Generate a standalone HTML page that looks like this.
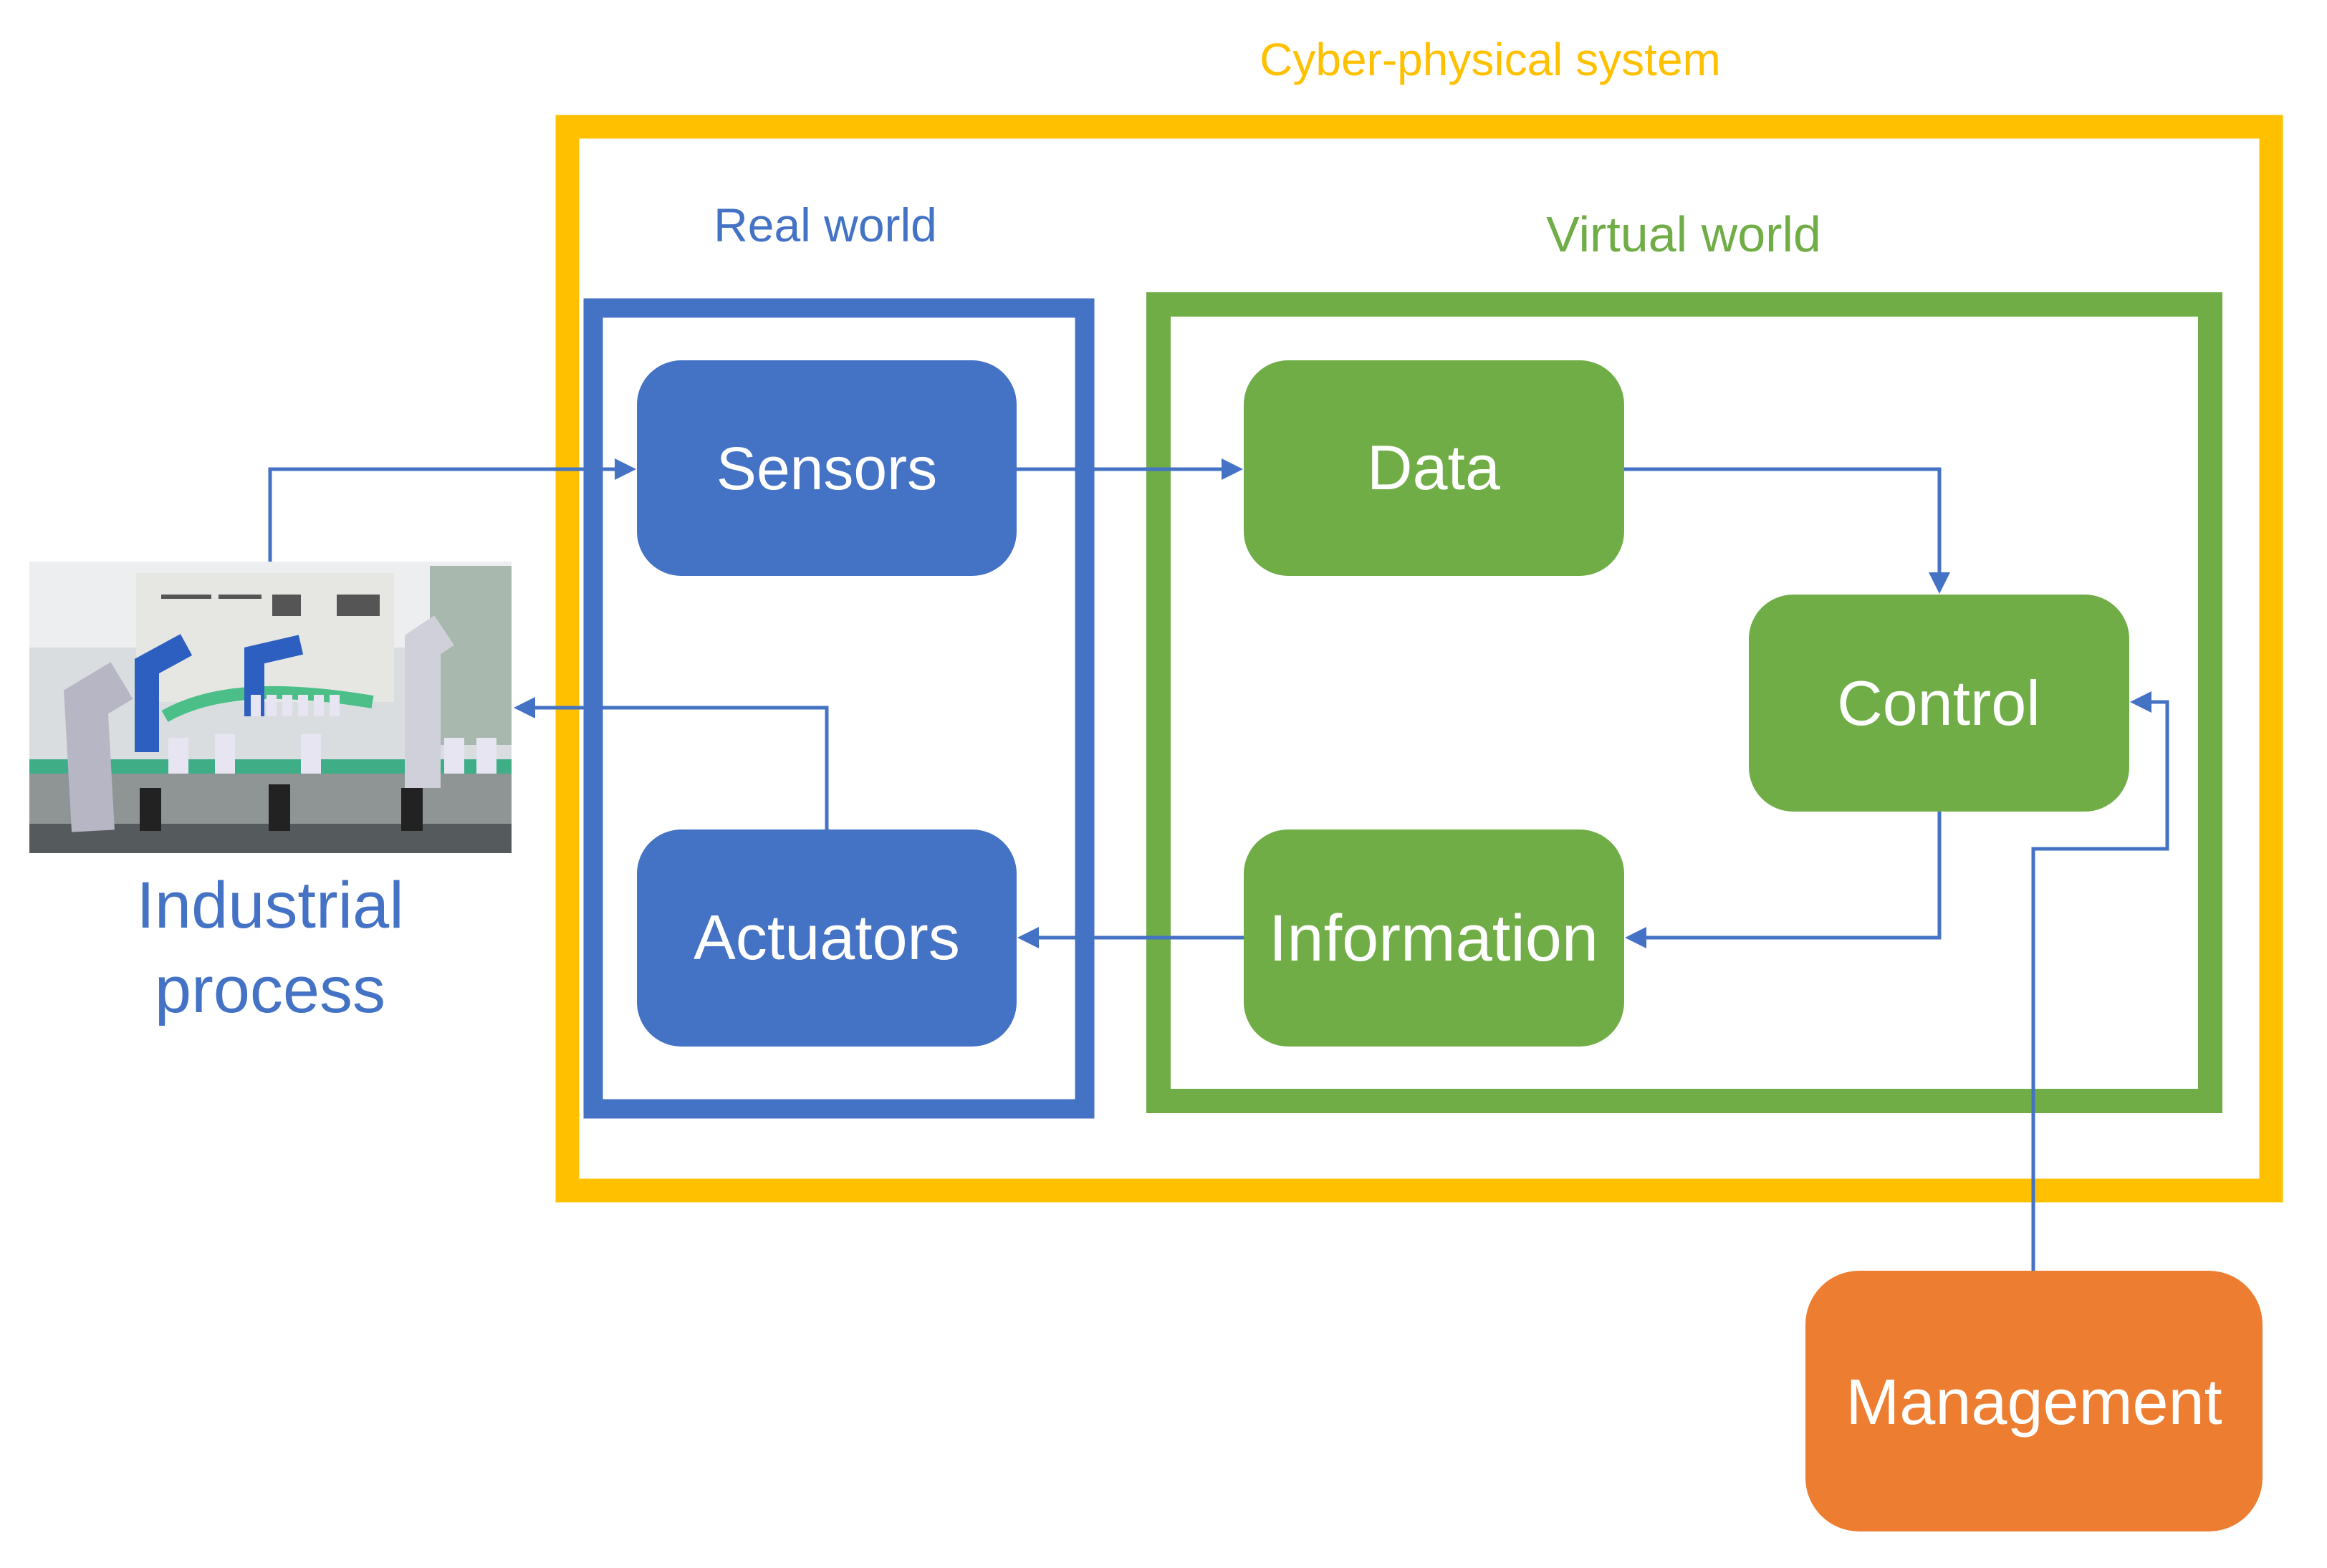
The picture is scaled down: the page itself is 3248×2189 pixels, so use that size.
<!DOCTYPE html>
<html><head><style>
html,body{margin:0;padding:0;background:#fff;}
body{width:3248px;height:2184px;overflow:hidden;}
text{font-family:"Liberation Sans",sans-serif;}
</style></head><body>
<svg width="3248" height="2184" viewBox="0 0 3248 2184" xmlns="http://www.w3.org/2000/svg">
<defs>
<marker id="a" markerWidth="6" markerHeight="6" refX="5" refY="3" orient="auto" markerUnits="strokeWidth">
<path d="M0,0 L6,3 L0,6 z" fill="#4472C4"/></marker>
</defs>
<rect x="792" y="177" width="2378" height="1485" fill="none" stroke="#FFC000" stroke-width="33"/>
<rect x="828" y="430" width="686" height="1118" fill="none" stroke="#4472C4" stroke-width="27"/>
<rect x="1617" y="425" width="1468" height="1112" fill="none" stroke="#70AD47" stroke-width="34"/>

<g fill="none" stroke="#4472C4" stroke-width="5">
<polyline points="377,784 377,655 883,655" marker-end="url(#a)"/>
<polyline points="1154,1158 1154,988 722,988" marker-end="url(#a)"/>
<polyline points="1419,655 1730,655" marker-end="url(#a)"/>
<polyline points="2267,655 2707,655 2707,824" marker-end="url(#a)"/>
<polyline points="2707,1133 2707,1309 2273,1309" marker-end="url(#a)"/>
<polyline points="1736,1309 1425,1309" marker-end="url(#a)"/>
<polyline points="2838,1774 2838,1185 3025,1185 3025,980 2978,980" marker-end="url(#a)"/>
</g>

<g font-size="84" fill="#fff" text-anchor="middle">
<rect x="889" y="503" width="530" height="301" rx="62" fill="#4472C4"/>
<text x="1154" y="683" fill="#fff">Sensors</text>
<rect x="889" y="1158" width="530" height="303" rx="62" fill="#4472C4"/>
<text x="1154" y="1339" fill="#fff" font-size="88">Actuators</text>
<rect x="1736" y="503" width="531" height="301" rx="62" fill="#70AD47"/>
<text x="2001" y="683" fill="#fff" font-size="88">Data</text>
<rect x="1736" y="1158" width="531" height="303" rx="62" fill="#70AD47"/>
<text x="2001" y="1341" fill="#fff" font-size="92">Information</text>
<rect x="2441" y="830" width="531" height="303" rx="62" fill="#70AD47"/>
<text x="2706" y="1012" fill="#fff" font-size="88">Control</text>
<rect x="2520" y="1774" width="638" height="364" rx="75" fill="#ED7D31"/>
<text x="2839" y="1988" fill="#fff" font-size="90">Management</text>
</g>

<text x="2080" y="105" font-size="64" fill="#FFC000" text-anchor="middle">Cyber-physical system</text>
<text x="1152" y="337" font-size="66" fill="#4472C4" text-anchor="middle">Real world</text>
<text x="2350" y="351" font-size="70" fill="#70AD47" text-anchor="middle">Virtual world</text>
<text x="377" y="1295" font-size="92" fill="#4472C4" text-anchor="middle">Industrial</text>
<text x="377" y="1413" font-size="92" fill="#4472C4" text-anchor="middle">process</text>

<g>
<rect x="41" y="784" width="673" height="407" fill="#d9dde0"/>
<rect x="41" y="784" width="673" height="120" fill="#eceeef"/>
<rect x="190" y="800" width="360" height="180" fill="#e6e6e3"/>
<g fill="#555">
<rect x="225" y="830" width="70" height="6"/><rect x="305" y="830" width="60" height="6"/><rect x="380" y="830" width="40" height="30"/><rect x="470" y="830" width="60" height="30"/>
</g>
<rect x="600" y="790" width="114" height="250" fill="#a9b8ae"/>
<rect x="41" y="1060" width="673" height="20" fill="#3fae86"/>
<rect x="41" y="1080" width="673" height="111" fill="#8f9494"/>
<rect x="41" y="1150" width="673" height="41" fill="#555a5c"/>
<path d="M230,1000 C300,960 400,960 520,980" stroke="#4cbf88" stroke-width="18" fill="none"/>
<path d="M205,1050 L205,930 L260,900" stroke="#2d5fc0" stroke-width="34" fill="none"/>
<path d="M355,1000 L355,915 L420,900" stroke="#2d5fc0" stroke-width="28" fill="none"/>
<path d="M130,1160 L120,980 L170,950" stroke="#b7b6c4" stroke-width="60" fill="none"/>
<path d="M590,1100 L590,900 L620,880" stroke="#d0d0da" stroke-width="50" fill="none"/>
<g fill="#e8e5f3">
<rect x="350" y="970" width="14" height="30"/><rect x="372" y="970" width="14" height="30"/><rect x="394" y="970" width="14" height="30"/><rect x="416" y="970" width="14" height="30"/><rect x="438" y="970" width="14" height="30"/><rect x="460" y="970" width="14" height="30"/>
<rect x="235" y="1030" width="28" height="50"/><rect x="300" y="1025" width="28" height="55"/><rect x="420" y="1025" width="28" height="55"/><rect x="620" y="1030" width="28" height="50"/><rect x="665" y="1030" width="28" height="50"/>
</g>
<g fill="#222"><rect x="195" y="1100" width="30" height="60"/><rect x="375" y="1095" width="30" height="65"/><rect x="560" y="1100" width="30" height="60"/></g>
</g>
</svg>
</body></html>
